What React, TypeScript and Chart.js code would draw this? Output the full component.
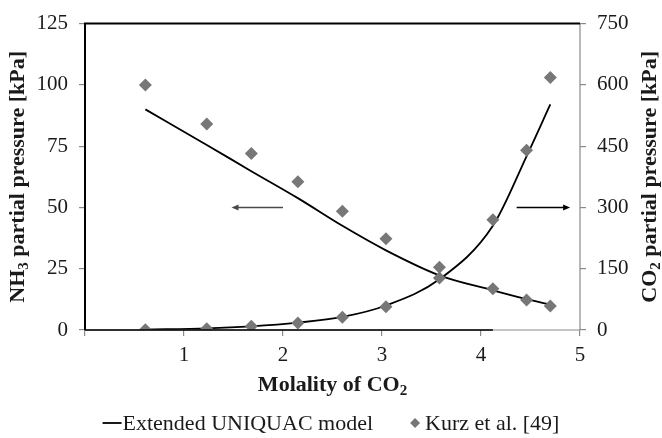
import { useEffect, useRef } from 'react';
import { Chart, registerables } from 'chart.js';

Chart.register(...registerables);

// ---- data ----
const MOLALITY = [0.61, 1.23, 1.68, 2.15, 2.6, 3.04, 3.58, 4.12, 4.46, 4.7];
const NH3_MEASURED = [100, 84, 72, 60.5, 48.4, 37.2, 25.6, 16.8, 12.2, 9.8];
const CO2_MEASURED = [0.5, 3, 9, 17, 31, 57, 127, 270, 440, 618];
const NH3_MODEL = [90, 75.5, 64.8, 53.8, 42.5, 32.5, 22.3, 16.2, 12.6, 10.3];
const CO2_MODEL = [1, 4, 9, 18, 32, 60, 124, 255, 425, 552];

const X_TICK_LABELS = ['', '1', '2', '3', '4', '5'];
const NH3_TICKS = [0, 25, 50, 75, 100, 125];
const CO2_TICKS = [0, 150, 300, 450, 600, 750];

const LEGEND_MODEL = 'Extended UNIQUAC model';
const LEGEND_DATA = 'Kurz et al. [49]';

// arrow annotations (data units): [xFrom, xTo, yLeftAxis]
const LEFT_ARROW = [2.0, 1.48, 50];
const RIGHT_ARROW = [4.36, 4.9, 50];

const FONT = '"Liberation Serif", "Times New Roman", serif';
const GRAY = '#777777';
const AXIS_GRAY = '#8a8a8a';
const TEXT = '#1a1a1a';
const TITLE_SIZE = 22;
const LEGEND_SIZE = 22;
const TICK_SIZE = 21;

function drawSubText(ctx: CanvasRenderingContext2D, parts: [string, boolean][], x: number, y: number, size: number) {
  const subSize = Math.round(size * 0.66);
  let total = 0;
  for (const [t, sub] of parts) {
    ctx.font = `bold ${sub ? subSize : size}px ${FONT}`;
    total += ctx.measureText(t).width;
  }
  let cx = x - total / 2;
  ctx.textAlign = 'left';
  ctx.textBaseline = 'middle';
  for (const [t, sub] of parts) {
    ctx.font = `bold ${sub ? subSize : size}px ${FONT}`;
    ctx.fillText(t, cx, sub ? y + size * 0.3 : y);
    cx += ctx.measureText(t).width;
  }
}

function arrow(ctx: CanvasRenderingContext2D, x1: number, x2: number, y: number, color: string) {
  ctx.save();
  ctx.strokeStyle = color;
  ctx.fillStyle = color;
  ctx.lineWidth = 1.5;
  const dir = Math.sign(x2 - x1);
  ctx.beginPath();
  ctx.moveTo(x1, y);
  ctx.lineTo(x2 - dir * 5, y);
  ctx.stroke();
  ctx.beginPath();
  ctx.moveTo(x2, y);
  ctx.lineTo(x2 - dir * 7, y - 3);
  ctx.lineTo(x2 - dir * 7, y + 3);
  ctx.closePath();
  ctx.fill();
  ctx.restore();
}

const decorations = {
  id: 'decorations',
  afterDraw(chart: any) {
    const { ctx, chartArea, scales } = chart;
    const { left, right, top, bottom } = chartArea;
    ctx.save();
    // frame
    ctx.lineCap = 'butt';
    ctx.strokeStyle = AXIS_GRAY;
    ctx.lineWidth = 1.2;
    ctx.beginPath();
    ctx.moveTo(right, top);
    ctx.lineTo(right, bottom);
    ctx.moveTo(left, bottom);
    ctx.lineTo(right, bottom);
    ctx.stroke();
    ctx.strokeStyle = '#000';
    ctx.lineWidth = 2;
    ctx.beginPath();
    ctx.moveTo(left, bottom);
    ctx.lineTo(left, top);
    ctx.lineTo(right, top);
    ctx.stroke();
    ctx.lineWidth = 1.5;
    ctx.beginPath();
    ctx.moveTo(left, bottom);
    ctx.lineTo(scales.x.getPixelForValue(MOLALITY[7]), bottom);
    ctx.stroke();

    // arrows
    arrow(ctx, scales.x.getPixelForValue(LEFT_ARROW[0]), scales.x.getPixelForValue(LEFT_ARROW[1]), scales.y.getPixelForValue(LEFT_ARROW[2]), '#4a4a4a');
    arrow(ctx, scales.x.getPixelForValue(RIGHT_ARROW[0]), scales.x.getPixelForValue(RIGHT_ARROW[1]), scales.y.getPixelForValue(RIGHT_ARROW[2]), '#000');

    // axis titles
    ctx.fillStyle = TEXT;
    const midY = (top + bottom) / 2;
    drawSubText(ctx, [['Molality of CO', false], ['2', true]], (left + right) / 2, 385, TITLE_SIZE);
    ctx.save();
    ctx.translate(18, midY);
    ctx.rotate(-Math.PI / 2);
    drawSubText(ctx, [['NH', false], ['3', true], [' partial pressure [kPa]', false]], 0, 0, TITLE_SIZE);
    ctx.restore();
    ctx.save();
    ctx.translate(650, midY);
    ctx.rotate(-Math.PI / 2);
    drawSubText(ctx, [['CO', false], ['2', true], [' partial pressure [kPa]', false]], 0, 0, TITLE_SIZE);
    ctx.restore();

    // legend
    const ly = 423;
    ctx.font = `${LEGEND_SIZE}px ${FONT}`;
    const w1 = ctx.measureText(LEGEND_MODEL).width;
    const w2 = ctx.measureText(LEGEND_DATA).width;
    const lineW = 19;
    const gap = 37;
    const diamondW = 10;
    const total = lineW + 1 + w1 + gap + diamondW + 5 + w2;
    let x = chart.width / 2 - total / 2;
    ctx.strokeStyle = '#000';
    ctx.lineWidth = 1.8;
    ctx.beginPath();
    ctx.moveTo(x, ly);
    ctx.lineTo(x + lineW, ly);
    ctx.stroke();
    x += lineW + 1;
    ctx.textAlign = 'left';
    ctx.textBaseline = 'middle';
    ctx.fillText(LEGEND_MODEL, x, ly + 1);
    x += w1 + gap;
    const dc = x + diamondW / 2;
    ctx.fillStyle = GRAY;
    ctx.beginPath();
    ctx.moveTo(dc, ly - 5);
    ctx.lineTo(dc + 5, ly);
    ctx.lineTo(dc, ly + 5);
    ctx.lineTo(dc - 5, ly);
    ctx.closePath();
    ctx.fill();
    x += diamondW + 5;
    ctx.fillStyle = TEXT;
    ctx.fillText(LEGEND_DATA, x, ly + 1);
    ctx.restore();
  },
};

export default function App() {
  const ref = useRef<HTMLCanvasElement>(null);
  useEffect(() => {
    document.body.style.margin = '0';
    const canvas = ref.current;
    if (!canvas) return;
    const pts = (ys: number[]) => MOLALITY.map((x, i) => ({ x, y: ys[i] }));
    const tickFont = { family: FONT, size: TICK_SIZE };
    const grid = {
      drawOnChartArea: false,
      drawTicks: true,
      tickLength: 6,
      color: AXIS_GRAY,
      lineWidth: 1.2,
    };
    const chart = new Chart(canvas, {
      type: 'scatter',
      data: {
        datasets: [
          {
            label: LEGEND_DATA,
            data: pts(NH3_MEASURED),
            yAxisID: 'y',
            showLine: false,
            pointStyle: 'rectRot',
            pointRadius: 6.5,
            pointBorderWidth: 0,
            backgroundColor: GRAY,
            borderColor: GRAY,
            order: 0,
          },
          {
            label: LEGEND_DATA + ' CO2',
            data: pts(CO2_MEASURED),
            yAxisID: 'y1',
            showLine: false,
            pointStyle: 'rectRot',
            pointRadius: 6.5,
            pointBorderWidth: 0,
            backgroundColor: GRAY,
            borderColor: GRAY,
            order: 0,
          },
          {
            label: LEGEND_MODEL,
            data: pts(NH3_MODEL),
            yAxisID: 'y',
            showLine: true,
            pointRadius: 0,
            borderColor: '#000',
            borderWidth: 1.8,
            cubicInterpolationMode: 'monotone',
            order: 1,
          },
          {
            label: LEGEND_MODEL + ' CO2',
            data: pts(CO2_MODEL),
            yAxisID: 'y1',
            showLine: true,
            pointRadius: 0,
            borderColor: '#000',
            borderWidth: 1.8,
            cubicInterpolationMode: 'monotone',
            order: 1,
          },
        ],
      },
      options: {
        responsive: false,
        animation: false,
        devicePixelRatio: 1,
        layout: { padding: { top: 16, left: 0, right: 0, bottom: 0 } },
        plugins: { legend: { display: false }, tooltip: { enabled: false } },
        scales: {
          x: {
            type: 'linear',
            min: 0,
            max: 5,
            afterBuildTicks: (s: any) => {
              s.ticks = X_TICK_LABELS.map((_, i) => ({ value: i }));
            },
            ticks: {
              callback: (_v: any, i: number) => X_TICK_LABELS[i],
              font: tickFont,
              color: TEXT,
              padding: 7,
              maxRotation: 0,
              autoSkip: false,
            },
            grid,
            border: { display: false },
            afterFit: (s: any) => {
              s.height = 108;
            },
          },
          y: {
            position: 'left',
            min: 0,
            max: 125,
            afterBuildTicks: (s: any) => {
              s.ticks = NH3_TICKS.map((v) => ({ value: v }));
            },
            ticks: { font: tickFont, color: TEXT, padding: 11 },
            grid,
            border: { display: false },
            afterFit: (s: any) => {
              s.width = 85;
            },
          },
          y1: {
            position: 'right',
            min: 0,
            max: 750,
            afterBuildTicks: (s: any) => {
              s.ticks = CO2_TICKS.map((v) => ({ value: v }));
            },
            ticks: { font: tickFont, color: TEXT, padding: 11 },
            grid,
            border: { display: false },
            afterFit: (s: any) => {
              s.width = 82;
            },
          },
        },
      },
      plugins: [decorations],
    });
    return () => chart.destroy();
  }, []);
  return (
    <div style={{ width: 662, height: 438, background: '#fff' }}>
      <canvas ref={ref} width={662} height={438} style={{ display: 'block' }} />
    </div>
  );
}
